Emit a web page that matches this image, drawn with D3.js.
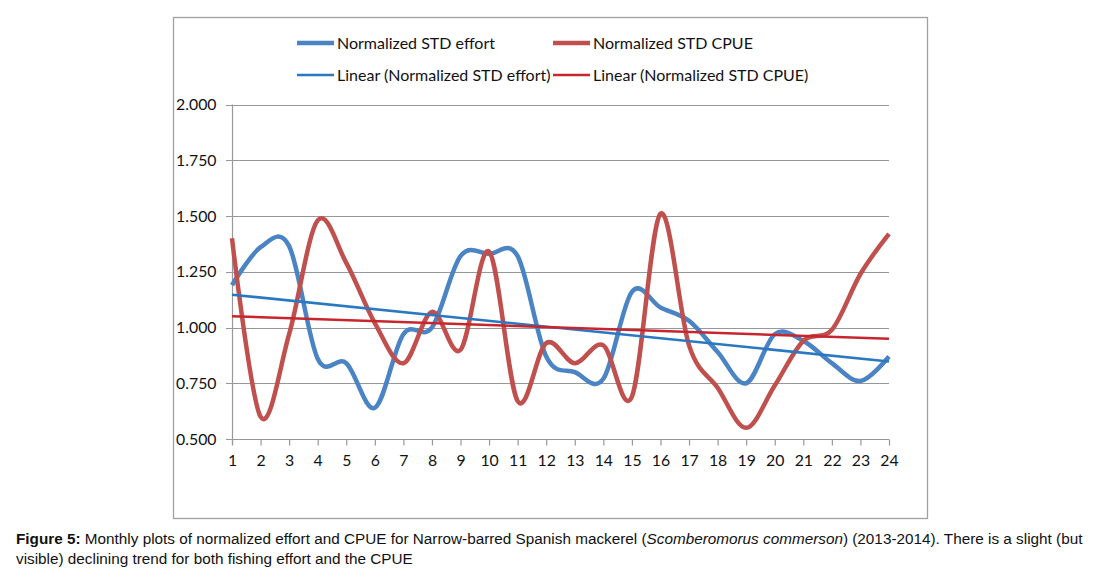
<!DOCTYPE html>
<html><head><meta charset="utf-8">
<script src="https://cdn.jsdelivr.net/npm/d3@7"></script>
<style>
body{margin:0;background:#fff;}
svg{display:block;}
</style></head>
<body><svg id="c" width="1095" height="577"></svg>
<script>
const months = d3.range(1, 25);
const effort = [1.19,1.36,1.365,0.86,0.84,0.64,0.97,1.00,1.32,1.33,1.32,0.87,0.80,0.77,1.16,1.09,1.03,0.89,0.75,0.97,0.94,0.84,0.76,0.87];
const cpue   = [1.40,0.60,0.97,1.48,1.29,1.02,0.84,1.07,0.90,1.34,0.67,0.93,0.84,0.92,0.69,1.51,0.92,0.73,0.55,0.74,0.94,0.99,1.24,1.42];
const yTicks = [0.5,0.75,1.0,1.25,1.5,1.75,2.0];
const legendLabels = ["Normalized STD effort","Normalized STD CPUE","Linear (Normalized STD effort)","Linear (Normalized STD CPUE)"];
const captionBold = "Figure 5:";
const caption1 = " Monthly plots of normalized effort and CPUE for Narrow-barred Spanish mackerel (";
const captionItalic = "Scomberomorus commerson";
const caption1b = ") (2013-2014). There is a slight (but";
const caption2 = "visible) declining trend for both fishing effort and the CPUE";

const svg = d3.select("#c");
const font = "Lato, 'Open Sans', sans-serif";
const x = d3.scaleLinear().domain([1,24]).range([232,889]);
const y = d3.scaleLinear().domain([0.5,2.0]).range([439,104.5]);

// frame
svg.append("rect").attr("x",173.5).attr("y",17.5).attr("width",754).attr("height",501)
  .attr("fill","#fff").attr("stroke","#a0a0a0").attr("stroke-width",1.3);

// gridlines
svg.append("g").selectAll("line").data(yTicks).join("line")
  .attr("x1",226).attr("x2",889).attr("y1",d=>Math.round(y(d))+0.5).attr("y2",d=>Math.round(y(d))+0.5)
  .attr("stroke","#989898").attr("stroke-width",1.2);

// y axis
const yAxis = d3.axisLeft(y).tickValues(yTicks).tickFormat(d3.format(".3f")).tickSize(0).tickPadding(16);
const gy = svg.append("g").attr("transform","translate(232.5,0)").call(yAxis);
gy.select(".domain").attr("stroke","#989898").attr("stroke-width",1.2).attr("d","M0,104.5V445");
gy.selectAll("text").attr("font-family",font).attr("font-size",15.8).attr("fill","#111");

// x axis
const xAxis = d3.axisBottom(x).tickValues(months).tickSize(6).tickPadding(9).tickFormat(d3.format("d"));
const gx = svg.append("g").attr("transform","translate(0,439.5)").call(xAxis);
gx.select(".domain").remove();
gx.selectAll("line").attr("stroke","#989898").attr("stroke-width",1.2);
gx.selectAll("text").attr("font-family",font).attr("font-size",15.8).attr("fill","#111");

// lines
const line = d3.line().x((d,i)=>x(months[i])).y(d=>y(d)).curve(d3.curveCatmullRom.alpha(0));
function fit(vals){
  const mx=d3.mean(months), my=d3.mean(vals);
  let sxy=0,sxx=0; months.forEach((m,i)=>{sxy+=(m-mx)*(vals[i]-my);sxx+=(m-mx)*(m-mx);});
  const b=sxy/sxx, a=my-b*mx; return [a+b*1, a+b*24];
}
const trendLine = d3.line().x((d,i)=>x(i===0?1:24)).y(d=>y(d));

svg.append("path").attr("d",line(effort)).attr("fill","none").attr("stroke","#4a84c4").attr("stroke-width",4.5).attr("stroke-linejoin","round");
svg.append("path").attr("d",line(cpue)).attr("fill","none").attr("stroke","#c0504d").attr("stroke-width",4.5).attr("stroke-linejoin","round");
svg.append("path").attr("d",trendLine(fit(effort))).attr("fill","none").attr("stroke","#2a78c2").attr("stroke-width",2.6);
svg.append("path").attr("d",trendLine(fit(cpue))).attr("fill","none").attr("stroke","#c8262e").attr("stroke-width",2.6);

// legend
const leg = [
  {x:297,y:43,c:"#4a84c4",w:4.5,t:legendLabels[0]},
  {x:553,y:43,c:"#c0504d",w:4.5,t:legendLabels[1]},
  {x:297,y:75,c:"#2a78c2",w:2.6,t:legendLabels[2]},
  {x:553,y:75,c:"#c8262e",w:2.6,t:legendLabels[3]}
];
const lg = svg.append("g").selectAll("g").data(leg).join("g").attr("transform",d=>`translate(${d.x},${d.y})`);
lg.append("line").attr("x1",0).attr("x2",37).attr("stroke",d=>d.c).attr("stroke-width",d=>d.w);
lg.append("text").attr("x",40).attr("dy","0.35em").attr("font-family",font).attr("font-size",16).attr("fill","#111").text(d=>d.t);

// caption
const cf = "'Liberation Sans', Arial, sans-serif";
const t1 = svg.append("text").attr("x",16).attr("y",544).attr("font-family",cf).attr("font-size",15.3).attr("fill","#111");
t1.append("tspan").attr("font-weight","bold").text(captionBold);
t1.append("tspan").text(caption1);
t1.append("tspan").attr("font-style","italic").text(captionItalic);
t1.append("tspan").text(caption1b);
svg.append("text").attr("x",16).attr("y",564).attr("font-family",cf).attr("font-size",15.3).attr("fill","#111").text(caption2);
</script></body></html>
